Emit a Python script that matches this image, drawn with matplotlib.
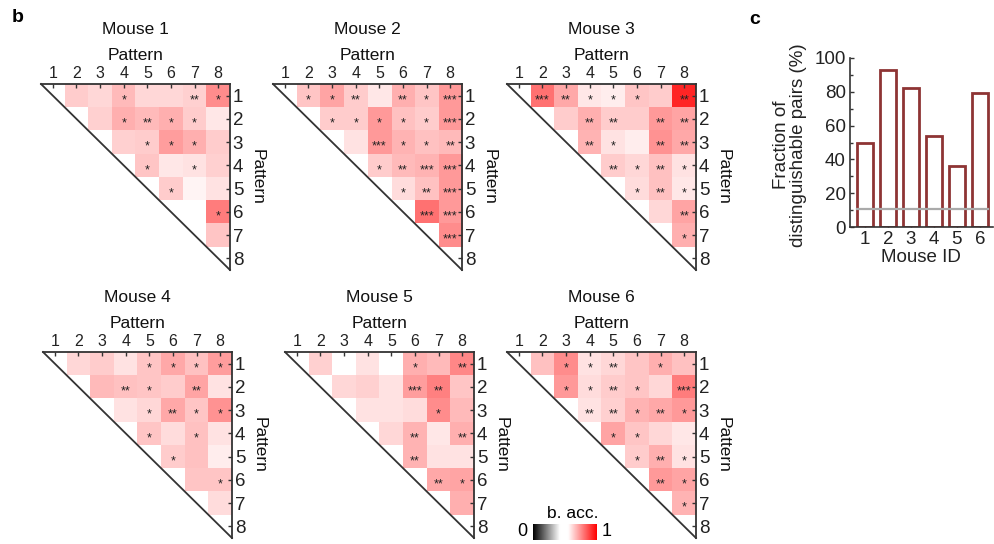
import numpy as np
import matplotlib
matplotlib.use("Agg")
import matplotlib.pyplot as plt
from matplotlib.colors import LinearSegmentedColormap

plt.rcParams['font.family'] = ['Liberation Sans', 'DejaVu Sans']

W, H = 994, 544

patterns = [1, 2, 3, 4, 5, 6, 7, 8]
mouse_ids = [1, 2, 3, 4, 5, 6]

# Balanced decoding accuracy for each pattern pair (upper triangle, row i -> columns i+1..8)
acc_m1 = [[0.64, 0.62, 0.67, 0.62, 0.62, 0.63, 0.75],
          [0.63, 0.69, 0.67, 0.69, 0.64, 0.59],
          [0.63, 0.64, 0.72, 0.69, 0.64],
          [0.65, 0.59, 0.60, 0.63],
          [0.64, 0.57, 0.60],
          [0.55, 0.78],
          [0.65]]
acc_m2 = [[0.65, 0.71, 0.64, 0.59, 0.69, 0.65, 0.73],
          [0.64, 0.64, 0.73, 0.66, 0.64, 0.73],
          [0.60, 0.73, 0.68, 0.66, 0.67],
          [0.64, 0.67, 0.68, 0.73],
          [0.61, 0.66, 0.73],
          [0.80, 0.73],
          [0.75]]
acc_m3 = [[0.80, 0.70, 0.59, 0.58, 0.65, 0.64, 0.93],
          [0.64, 0.69, 0.64, 0.64, 0.73, 0.71],
          [0.68, 0.60, 0.58, 0.74, 0.70],
          [0.64, 0.62, 0.66, 0.60],
          [0.61, 0.66, 0.59],
          [0.62, 0.71],
          [0.69]]
acc_m4 = [[0.62, 0.64, 0.60, 0.65, 0.70, 0.66, 0.72],
          [0.67, 0.66, 0.65, 0.64, 0.71, 0.60],
          [0.60, 0.62, 0.70, 0.65, 0.74],
          [0.65, 0.61, 0.66, 0.60],
          [0.64, 0.66, 0.58],
          [0.65, 0.65],
          [0.61]]
acc_m5 = [[0.63, 0.55, 0.60, 0.55, 0.69, 0.67, 0.76],
          [0.62, 0.63, 0.60, 0.72, 0.77, 0.65],
          [0.60, 0.60, 0.61, 0.75, 0.67],
          [0.62, 0.68, 0.59, 0.69],
          [0.68, 0.60, 0.60],
          [0.70, 0.71],
          [0.69]]
acc_m6 = [[0.66, 0.75, 0.60, 0.62, 0.65, 0.69, 0.66],
          [0.73, 0.61, 0.64, 0.65, 0.62, 0.78],
          [0.60, 0.63, 0.68, 0.70, 0.73],
          [0.71, 0.65, 0.62, 0.59],
          [0.64, 0.69, 0.60],
          [0.73, 0.71],
          [0.68]]

# Number of significance stars per pair (same layout)
stars_m1 = [[0, 0, 1, 0, 0, 2, 1], [0, 1, 2, 1, 1, 0], [0, 1, 1, 1, 0],
            [1, 0, 1, 0], [1, 0, 0], [0, 1], [0]]
stars_m2 = [[1, 1, 2, 0, 2, 1, 3], [1, 1, 1, 1, 1, 3], [0, 3, 1, 1, 2],
            [1, 2, 3, 3], [1, 2, 3], [3, 3], [3]]
stars_m3 = [[3, 2, 1, 1, 1, 0, 2], [0, 2, 2, 0, 2, 2], [2, 1, 0, 2, 2],
            [2, 1, 2, 1], [1, 2, 1], [0, 2], [1]]
stars_m4 = [[0, 0, 0, 1, 1, 1, 1], [0, 2, 1, 0, 2, 0], [0, 1, 2, 1, 1],
            [1, 0, 1, 0], [1, 0, 0], [0, 1], [0]]
stars_m5 = [[0, 0, 0, 0, 1, 0, 2], [0, 0, 0, 3, 2, 0], [0, 0, 0, 1, 0],
            [0, 2, 0, 2], [2, 0, 0], [2, 1], [0]]
stars_m6 = [[0, 1, 1, 2, 0, 1, 0], [1, 1, 2, 1, 0, 3], [2, 2, 1, 2, 1],
            [1, 1, 0, 0], [1, 2, 1], [2, 1], [1]]

# Panel c: fraction of distinguishable pairs per mouse (%)
distinguishable_pct = [50, 93, 82, 54, 36, 79]
chance_pct = 10.7

accuracies = [acc_m1, acc_m2, acc_m3, acc_m4, acc_m5, acc_m6]
stars = [stars_m1, stars_m2, stars_m3, stars_m4, stars_m5, stars_m6]

cmap = LinearSegmentedColormap.from_list(
    'bacc', [(0.0, 'black'), (0.42, 'white'), (0.55, 'white'), (1.0, 'red')])

fig = plt.figure(figsize=(W / 100, H / 100), dpi=100)


def px_axes(x, top, w, h):
    return fig.add_axes([x / W, 1 - (top + h) / H, w / W, h / H])


def fig_text(x, y, s, **kw):
    fig.text(x / W, 1 - y / H, s, **kw)


# (left, top) pixel corners of the six matrices
corners = [(41, 84), (273, 84), (507, 84), (43, 352), (285, 352), (507, 352)]
MW, MH = 189, 186
n = len(patterns)

for k, (x0, y0) in enumerate(corners):
    ax = px_axes(x0, y0, MW, MH)
    mat = np.full((n, n), np.nan)
    for i, row in enumerate(accuracies[k]):
        mat[i, i + 1:] = row
    ax.imshow(mat, cmap=cmap, vmin=0, vmax=1, extent=(0, n, n, 0),
              interpolation='nearest', aspect='auto')
    for i, row in enumerate(stars[k]):
        for j, s in enumerate(row):
            if s:
                ax.text(i + 1 + j + 0.5, i + 0.5 + 0.2, '*' * s, ha='center',
                        va='center', fontsize=9, color='#222222')
    ax.plot([0, n], [0, n], color='#333333', lw=1.3, clip_on=False)
    ax.set_xlim(0, n)
    ax.set_ylim(n, 0)
    for side in ('left', 'bottom'):
        ax.spines[side].set_visible(False)
    for side in ('top', 'right'):
        ax.spines[side].set_linewidth(1.3)
        ax.spines[side].set_color('#333333')
    ax.xaxis.tick_top()
    ax.yaxis.tick_right()
    ticks = np.arange(n) + 0.5
    ax.set_xticks(ticks)
    ax.set_xticklabels(patterns)
    ax.set_yticks(ticks)
    ax.set_yticklabels(patterns)
    ax.tick_params(direction='in', length=3, width=1, pad=2,
                   colors='#333333', labelcolor='#222222')
    ax.tick_params(axis='x', labelsize=11.5)
    ax.tick_params(axis='y', labelsize=13.5)
    cx = x0 + MW / 2
    fig_text(cx, y0 - 54, f'Mouse {mouse_ids[k]}', ha='center', va='center',
             fontsize=12.5, color='#111111')
    fig_text(cx, y0 - 28, 'Pattern', ha='center', va='center', fontsize=12.5,
             color='#111111')
    fig_text(x0 + MW + 27, y0 + MH / 2, 'Pattern', ha='center', va='center',
             fontsize=12.5, rotation=270, color='#111111')

# Colour scale
cax = px_axes(533, 524, 64, 16)
cax.imshow(np.linspace(0, 1, 256)[None, :], cmap=cmap, vmin=0, vmax=1,
           aspect='auto', extent=(0, 1, 0, 1))
cax.set_axis_off()
fig_text(522, 532, '0', ha='center', va='center', fontsize=13)
fig_text(607, 532, '1', ha='center', va='center', fontsize=13)
fig_text(573, 513, 'b. acc.', ha='center', va='center', fontsize=12.5)

# Panel c
bx = px_axes(850, 58, 143, 169)
bx.bar(mouse_ids, distinguishable_pct, width=0.7, facecolor='white',
       edgecolor='#8e3434', linewidth=2.0, zorder=2)
bx.plot([mouse_ids[0] - 0.35, mouse_ids[-1] + 0.35], [chance_pct, chance_pct],
        color='#aaaaaa', lw=1.6, zorder=3)
bx.set_xlim(0.35, 6.57)
bx.set_ylim(0, 100)
bx.set_yticks([0, 20, 40, 60, 80, 100])
bx.set_yticks([10, 30, 50, 70, 90], minor=True)
bx.set_xticks(mouse_ids)
bx.tick_params(direction='in', length=3, width=1, labelsize=13.5, pad=3,
               colors='#333333', labelcolor='#222222')
bx.tick_params(which='minor', direction='in', length=2, width=1, colors='#333333')
bx.spines['top'].set_visible(False)
bx.spines['right'].set_visible(False)
for side in ('left', 'bottom'):
    bx.spines[side].set_linewidth(1.2)
    bx.spines[side].set_color('#333333')
fig_text(790, 145, 'Fraction of\ndistinguishable pairs (%)', ha='center',
         va='center', rotation=90, fontsize=13.5, linespacing=1.0, color='#222222')
fig_text(921, 257, 'Mouse ID', ha='center', va='center', fontsize=13.5,
         color='#222222')

fig_text(18, 18, 'b', ha='center', va='center', fontsize=14, fontweight='bold')
fig_text(755, 20, 'c', ha='center', va='center', fontsize=14, fontweight='bold')

fig.savefig('out.png', dpi=100)
